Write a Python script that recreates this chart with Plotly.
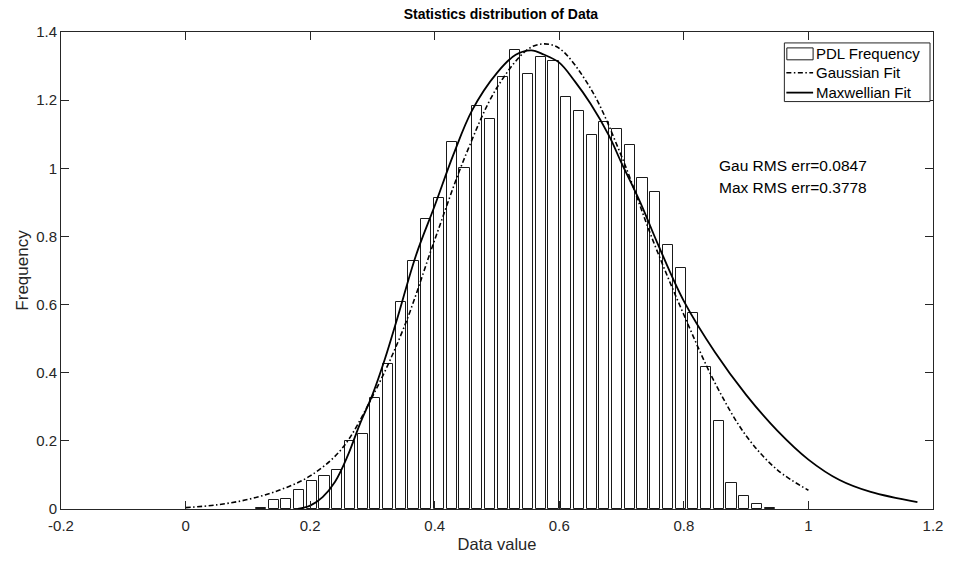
import plotly.graph_objects as go

# Histogram bins (centres) and normalised frequencies
bin_centers = [0.121, 0.1414, 0.1618, 0.1823, 0.2027, 0.2231, 0.2435, 0.2639, 0.2844, 0.3048,
               0.3252, 0.3456, 0.3660, 0.3865, 0.4069, 0.4273, 0.4477, 0.4681, 0.4886, 0.5090,
               0.5294, 0.5498, 0.5702, 0.5907, 0.6111, 0.6315, 0.6519, 0.6723, 0.6928, 0.7132,
               0.7336, 0.7540, 0.7744, 0.7949, 0.8153, 0.8357, 0.8561, 0.8765, 0.8970, 0.9174,
               0.9378]
frequency = [0.003, 0.025, 0.028, 0.055, 0.082, 0.096, 0.115, 0.200, 0.220, 0.326,
             0.427, 0.607, 0.727, 0.850, 0.912, 1.078, 1.001, 1.182, 1.145, 1.269,
             1.347, 1.276, 1.328, 1.316, 1.209, 1.167, 1.099, 1.136, 1.114, 1.067,
             0.971, 0.930, 0.776, 0.707, 0.574, 0.417, 0.259, 0.077, 0.037, 0.014,
             0.003]
bar_width = 0.0163

# Gaussian fit curve
gau_x = [0.00, 0.05, 0.10, 0.15, 0.20, 0.25, 0.30, 0.35, 0.40, 0.45, 0.50, 0.55, 0.575,
         0.60, 0.65, 0.70, 0.75, 0.80, 0.85, 0.90, 0.95, 1.00]
gau_y = [0.004, 0.012, 0.028, 0.055, 0.097, 0.175, 0.330, 0.530, 0.790, 1.040, 1.237, 1.350, 1.365,
         1.352, 1.235, 1.035, 0.790, 0.570, 0.370, 0.215, 0.115, 0.055]

# Maxwellian fit curve
max_x = [0.18, 0.20, 0.22, 0.24, 0.26, 0.28, 0.30, 0.32, 0.34, 0.37, 0.40, 0.43, 0.46, 0.50,
         0.53, 0.555, 0.575, 0.60, 0.625, 0.65, 0.68, 0.70, 0.73, 0.76, 0.80, 0.85, 0.90,
         0.95, 1.00, 1.05, 1.10, 1.175]
max_y = [0.000, 0.010, 0.035, 0.080, 0.155, 0.250, 0.335, 0.440, 0.560, 0.745, 0.890, 1.040,
         1.170, 1.280, 1.333, 1.346, 1.334, 1.310, 1.255, 1.190, 1.095, 1.015, 0.900, 0.770,
         0.610, 0.460, 0.335, 0.230, 0.145, 0.085, 0.050, 0.020]

x_ticks = [-0.2, 0, 0.2, 0.4, 0.6, 0.8, 1, 1.2]
x_tick_text = ["-0.2", "0", "0.2", "0.4", "0.6", "0.8", "1", "1.2"]
y_ticks = [0, 0.2, 0.4, 0.6, 0.8, 1, 1.2, 1.4]
y_tick_text = ["0", "0.2", "0.4", "0.6", "0.8", "1", "1.2", "1.4"]

legend_labels = ["PDL Frequency", "Gaussian Fit", "Maxwellian Fit"]
err_texts = ["Gau RMS err=0.0847", "Max RMS err=0.3778"]

AX = "#262626"
FONT = "Liberation Sans, Arial, Helvetica, sans-serif"
GAU_DASH = "5px,2.5px,1.5px,2.5px"

# plot-area geometry in pixels (for legend layout)
L, R, T, B = 61, 941, 32, 512
def px(xp):
    return (xp - L) / (R - L)
def py(yp):
    return (B - yp) / (B - T)

fig = go.Figure()
fig.add_trace(go.Bar(x=bin_centers, y=frequency, width=bar_width, name=legend_labels[0],
                     marker=dict(color="white", line=dict(color="#1a1a1a", width=1))))
fig.add_trace(go.Scatter(x=gau_x, y=gau_y, mode="lines", name=legend_labels[1],
                         line=dict(color="black", width=1.6, dash=GAU_DASH,
                                   shape="spline", smoothing=1.0)))
fig.add_trace(go.Scatter(x=max_x, y=max_y, mode="lines", name=legend_labels[2],
                         line=dict(color="black", width=1.8, shape="spline", smoothing=1.0)))

# RMS error texts
fig.add_annotation(x=0.8535, y=1.007, xref="x", yref="y", xanchor="left", yanchor="middle",
                   text=err_texts[0], showarrow=False,
                   font=dict(family=FONT, size=15.5, color="black"))
fig.add_annotation(x=0.8535, y=0.943, xref="x", yref="y", xanchor="left", yanchor="middle",
                   text=err_texts[1], showarrow=False,
                   font=dict(family=FONT, size=15.5, color="black"))

# Custom legend (MATLAB style)
fig.add_shape(type="rect", xref="paper", yref="paper", x0=px(791), x1=px(938), y0=py(102), y1=py(43),
              line=dict(color=AX, width=1), fillcolor="white", layer="above")
fig.add_shape(type="rect", xref="paper", yref="paper", x0=px(793.5), x1=px(820), y0=py(60), y1=py(48),
              line=dict(color="#1a1a1a", width=1), fillcolor="white", layer="above")
fig.add_shape(type="line", xref="paper", yref="paper", x0=px(793), x1=px(820), y0=py(73), y1=py(73),
              line=dict(color="black", width=1.6, dash=GAU_DASH), layer="above")
fig.add_shape(type="line", xref="paper", yref="paper", x0=px(793), x1=px(820), y0=py(93), y1=py(93),
              line=dict(color="black", width=1.8), layer="above")
for lbl, yp in zip(legend_labels, [54, 73, 93]):
    fig.add_annotation(x=px(821), y=py(yp), xref="paper", yref="paper", xanchor="left",
                       yanchor="middle", text=lbl, showarrow=False,
                       font=dict(family=FONT, size=15, color="black"))

fig.update_layout(
    width=955, height=563,
    margin=dict(l=L, r=955 - R, t=T, b=563 - B),
    paper_bgcolor="white", plot_bgcolor="white",
    font=dict(family=FONT, size=15, color=AX),
    title=dict(text="<b>Statistics distribution of Data</b>", x=0.5245, xanchor="center",
               y=0.975, yanchor="middle", font=dict(family=FONT, size=14, color="black")),
    showlegend=False,
    bargap=0,
)
fig.update_xaxes(range=[-0.2, 1.2], tickvals=x_ticks, ticktext=x_tick_text,
                 showgrid=False, zeroline=False, showline=True, linecolor=AX, linewidth=1,
                 mirror="ticks", ticks="inside", ticklen=8, tickcolor=AX,
                 tickfont=dict(family=FONT, size=15, color=AX), ticklabelstandoff=3,
                 title=dict(text="Data value", font=dict(family=FONT, size=16.5, color=AX), standoff=5))
fig.update_yaxes(range=[0, 1.4], tickvals=y_ticks, ticktext=y_tick_text,
                 showgrid=False, zeroline=False, showline=True, linecolor=AX, linewidth=1,
                 mirror="ticks", ticks="inside", ticklen=8, tickcolor=AX,
                 tickfont=dict(family=FONT, size=15, color=AX),
                 title=dict(text="Frequency", font=dict(family=FONT, size=17, color=AX), standoff=3))

fig.write_html("out.html")
